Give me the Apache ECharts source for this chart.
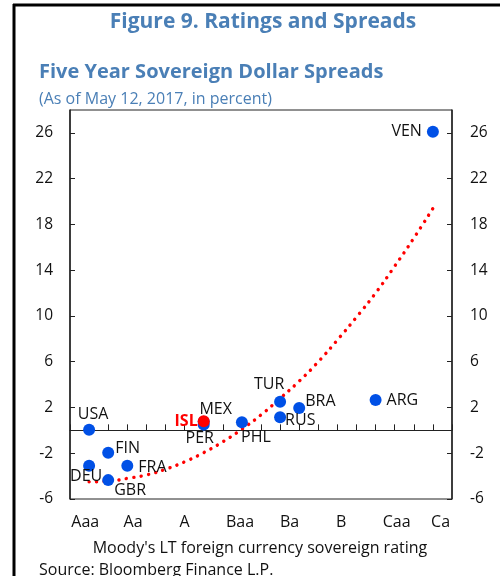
<!DOCTYPE html>
<html>
<head>
<meta charset="utf-8">
<script src="https://cdn.jsdelivr.net/npm/echarts@6/dist/echarts.min.js"></script>
<style>
    html, body { margin: 0; padding: 0; background: #ffffff; }
    #chart { width: 500px; height: 576px; }
</style>
</head>
<body>
<div id="chart"></div>
<script>
// rating notches: 1 = Aaa, 2 = Aa1, ... 19 = Caa3, 20 = Ca
const ratingLabels = ["Aaa", "Aa", "A", "Baa", "Ba", "B", "Caa", "Ca"];
const ratingLabelPos = [0.8, 3.3, 6.0, 8.9, 11.5, 14.2, 17.1, 19.4];
const yTicks = [-6, -2, 2, 6, 10, 14, 18, 22, 26];

// countries (blue dots)
const countries = ["USA", "DEU", "FIN", "GBR", "FRA", "MEX", "PER", "PHL", "TUR", "RUS", "BRA", "ARG", "VEN"];
const countryRating = [1, 1, 2, 2, 3, 7, 7, 9, 11, 11, 12, 16, 19];
const countrySpread = [0.05, -3.1, -1.95, -4.35, -3.1, 0.75, 0.5, 0.7, 2.5, 1.15, 1.95, 2.65, 26.1];

// Iceland (red dot)
const islRating = 7;
const islSpread = 0.8;

// trend line
const trendRating = [1, 2, 3, 4, 5, 6, 7, 8, 9, 10, 11, 12, 13, 14, 15, 16, 17, 18, 19];
const trendSpread = [-4.5, -4.45, -4.2, -3.9, -3.4, -2.75, -1.95, -1.0, 0.1, 1.35, 2.8, 4.3, 6.0, 7.9, 9.9, 12.0, 14.35, 16.8, 19.4];

// 标签位置 (label placement per country)
const labelPlace = {
    USA: { position: "top", offset: [4, 4] },
    DEU: { position: "bottom", offset: [-3, -8] },
    FIN: { position: "right", offset: [-4, -4] },
    GBR: { position: "right", offset: [-5, 10] },
    FRA: { position: "right", offset: [0, 2] },
    MEX: { position: "top", offset: [12, 7] },
    PER: { position: "bottom", offset: [-4, -5] },
    PHL: { position: "bottom", offset: [14, -4] },
    TUR: { position: "top", offset: [-11, 2] },
    RUS: { position: "right", offset: [-6, 3] },
    BRA: { position: "right", offset: [-5, -7] },
    ARG: { position: "right", offset: [0, 0] },
    VEN: { position: "left", offset: [0, 0] },
};

const blue = "#0050e6";
const red = "#ff0000";
const titleBlue = "#4a7fb6";
const textColor = "#111111";
const font = "Open Sans";

const chart = echarts.init(document.getElementById("chart"));

const option = {
    backgroundColor: "#ffffff",
    animation: false,
    textStyle: { fontFamily: font },
    title: [
        {
            text: "Figure 9. Ratings and Spreads",
            left: 258, top: 7, textAlign: "center",
            textStyle: { color: titleBlue, fontSize: 21, fontWeight: "bold", fontFamily: font },
        },
        {
            text: "Five Year Sovereign Dollar Spreads",
            left: 34, top: 57,
            textStyle: { color: titleBlue, fontSize: 20, fontWeight: "bold", fontFamily: font },
        },
        {
            text: "(As of May 12, 2017, in percent)",
            left: 34, top: 86,
            textStyle: { color: titleBlue, fontSize: 16, fontWeight: "normal", fontFamily: font },
        },
        {
            text: "Moody's LT foreign currency sovereign rating",
            left: 255, top: 535, textAlign: "center",
            textStyle: { color: textColor, fontSize: 16, fontWeight: "normal", fontFamily: font },
        },
        {
            text: "Source: Bloomberg Finance L.P.",
            left: 34, top: 557,
            textStyle: { color: textColor, fontSize: 16, fontWeight: "normal", fontFamily: font },
        },
    ],
    graphic: [
        { type: "line", shape: { x1: 14, y1: 4, x2: 14, y2: 576 }, style: { stroke: "#000", lineWidth: 3 } },
        { type: "line", shape: { x1: 13, y1: 5, x2: 500, y2: 5 }, style: { stroke: "#000", lineWidth: 3 } },
    ],
    grid: {
        left: 70, right: 48, top: 110, bottom: 77,
        show: true, borderColor: "#222", borderWidth: 1, backgroundColor: "transparent",
        containLabel: false,
    },
    xAxis: [
        {
            type: "value", min: 0, max: 20, interval: 1,
            axisLine: { show: true, onZero: true, lineStyle: { color: "#222", width: 1 } },
            axisTick: { show: true, inside: true, length: 6, lineStyle: { color: "#222" } },
            axisLabel: { show: false },
            splitLine: { show: false },
        },
        {
            type: "value", min: 0, max: 20, position: "bottom",
            axisLine: { show: false, onZero: false },
            axisTick: { show: false },
            splitLine: { show: false },
            axisLabel: {
                show: true, margin: 15, color: textColor, fontSize: 16, fontFamily: font,
                customValues: ratingLabelPos,
                formatter: (v) => {
                    const i = ratingLabelPos.indexOf(v);
                    return i >= 0 ? ratingLabels[i] : "";
                },
            },
        },
    ],
    yAxis: [
        {
            type: "value", min: -6, max: 28, position: "left",
            axisLine: { show: true, onZero: false, lineStyle: { color: "#222", width: 1.5 } },
            axisTick: { show: true, inside: true, length: 5, customValues: yTicks, lineStyle: { color: "#222" } },
            axisLabel: { color: textColor, fontSize: 15.5, margin: 17, customValues: yTicks, fontFamily: font },
            splitLine: { show: false },
        },
        {
            type: "value", min: -6, max: 28, position: "right",
            axisLine: { show: true, onZero: false, lineStyle: { color: "#222", width: 1.5 } },
            axisTick: { show: true, inside: true, length: 5, customValues: yTicks, lineStyle: { color: "#222" } },
            axisLabel: { color: textColor, fontSize: 15.5, margin: 18, customValues: yTicks, fontFamily: font },
            splitLine: { show: false },
        },
    ],
    series: [
        {
            name: "trend",
            type: "line",
            xAxisIndex: 0, yAxisIndex: 0,
            data: trendRating.map((r, i) => [r, trendSpread[i]]),
            smooth: true,
            symbol: "none",
            z: 3,
            lineStyle: { color: red, width: 3.4, type: [0.1, 7.4], cap: "round", opacity: 1 },
        },
        {
            name: "countries",
            type: "scatter",
            xAxisIndex: 0, yAxisIndex: 0,
            symbolSize: 12,
            z: 4,
            itemStyle: { color: blue, opacity: 1 },
            data: countries.map((c, i) => ({
                name: c,
                value: [countryRating[i], countrySpread[i]],
                label: {
                    show: true,
                    formatter: c,
                    color: textColor,
                    fontSize: 16,
                    fontFamily: font,
                    position: labelPlace[c].position,
                    offset: labelPlace[c].offset,
                },
            })),
        },
        {
            name: "ISL",
            type: "scatter",
            xAxisIndex: 0, yAxisIndex: 0,
            symbolSize: 12,
            z: 5,
            itemStyle: { color: red, opacity: 1 },
            data: [{
                name: "ISL",
                value: [islRating, islSpread],
                label: {
                    show: true, formatter: "ISL", position: "left", offset: [5, 0],
                    color: red, fontWeight: "bold", fontSize: 16, fontFamily: font,
                },
            }],
        },
    ],
};

chart.setOption(option);
</script>
</body>
</html>
